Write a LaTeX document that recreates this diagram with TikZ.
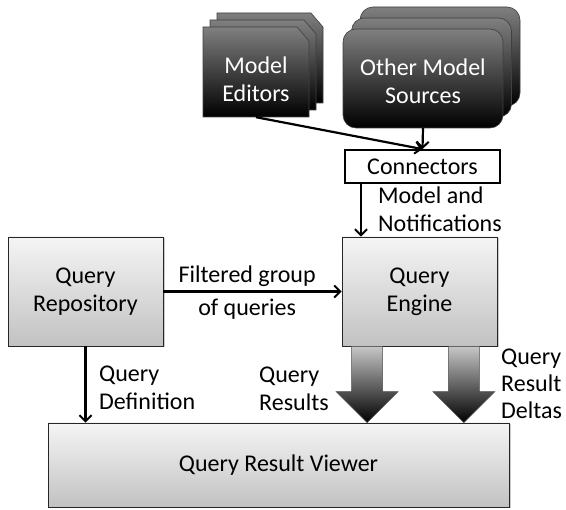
\documentclass[tikz,border=0pt]{standalone}
\usepackage{fontspec}
\setmainfont{Carlito}
\usetikzlibrary{calc,arrows.meta,shadows}
\tikzset{
  lightbox/.style={draw=black!85,line width=0.8pt,top color=black!4,bottom color=black!24,
     align=center,font=\fontsize{24}{28}\selectfont,inner sep=0pt,
     drop shadow={shadow xshift=1.5pt,shadow yshift=-1.5pt,opacity=0.35,fill=black!60}},
  darkcard/.style={draw=black!75,line width=0.6pt,top color=black!50,bottom color=black},
  lbl/.style={align=left,font=\fontsize{24}{28}\selectfont,inner sep=0pt},
  conn/.style={line width=2.2pt,-{Straight Barb[length=6pt,width=12pt,line width=2pt]}},
  blockarrow/.style={draw=black!70,line width=0.5pt,top color=black!22,bottom color=black}
}
\begin{document}
\begin{tikzpicture}[x=1pt,y=-1pt]
\useasboundingbox (0,0) rectangle (566,510);
% Model Editors stacked cards
\foreach \dx/\dy in {14/-14,7/-7,0/0}{
  \path[darkcard] (203+\dx,27+\dy) -- (297+\dx,27+\dy) -- (309+\dx,41+\dy) -- (309+\dx,117+\dy) -- (203+\dx,117+\dy) -- cycle;
}
\node[minimum width=106pt,minimum height=90pt,inner sep=0pt,text=white,align=center,
  font=\fontsize{24}{28}\selectfont] (me) at (256,79) {Model\\Editors};
% Other Model Sources stacked rounded boxes
\foreach \dx/\dy in {17/-22,8.5/-11,0/0}{
  \path[darkcard,rounded corners=13pt] (343+\dx,29+\dy) rectangle (503+\dx,128+\dy);
}
\node[minimum width=160pt,minimum height=99pt,inner sep=0pt,text=white,align=center,
  font=\fontsize{24}{28}\selectfont] (oms) at (423,81) {Other Model\\Sources};
% Connectors
\node[draw=black,line width=1.8pt,fill=white,minimum width=155pt,minimum height=33pt,inner sep=0pt,
  font=\fontsize{24}{28}\selectfont] (conn) at (422.5,166.5) {Connectors};
% Main boxes
\node[lightbox,minimum width=155pt,minimum height=109pt] (qr) at (85.5,291.5) {Query\\Repository};
\node[lightbox,minimum width=155pt,minimum height=109pt] (qe) at (419.5,291.5) {Query\\Engine};
\node[lightbox,minimum width=461pt,minimum height=84pt] (qv) at (278.5,465) {Query Result Viewer};
% connectors
\draw[conn] ([yshift=7pt]me.south) -- (conn.north);
\draw[conn] ([yshift=2.5pt]oms.south) -- (conn.north);
\coordinate (c1) at ([xshift=-61.5pt]conn.south);
\draw[conn] (c1) -- (c1 |- qe.north);
\node[lbl,anchor=west] (lmn) at (378,209.5) {Model and\\Notifications};
\draw[conn] (qr.east) -- (qe.west)
  node[pos=0.47,above=4pt,lbl] (lf1) {Filtered group}
  node[pos=0.47,below=6pt,lbl] (lf2) {of queries};
\draw[conn] (qr.south) -- (qr.south |- qv.north);
\node[lbl,anchor=west] (lqd) at (99,387.5) {Query\\Definition};
% block arrows
\coordinate (b1) at ([xshift=25.5pt]qe.south west);
\coordinate (b2) at ([xshift=-33.5pt]qe.south east);
\foreach \b in {b1,b2}{
  \path[blockarrow] ($(\b)+(-15.5,0)$) -- ($(\b |- qv.north)+(-15.5,-31)$) -- ($(\b |- qv.north)+(-31,-31)$)
    -- (\b |- qv.north) -- ($(\b |- qv.north)+(31,-31)$) -- ($(\b |- qv.north)+(15.5,-31)$)
    -- ($(\b)+(15.5,0)$) -- cycle;
}
\node[lbl,anchor=west] (lqr) at (259,389) {Query\\Results};
\node[lbl,anchor=west,font=\fontsize{24}{27}\selectfont] (lqd2) at (501,383.5) {Query\\Result\\Deltas};
\end{tikzpicture}
\end{document}
